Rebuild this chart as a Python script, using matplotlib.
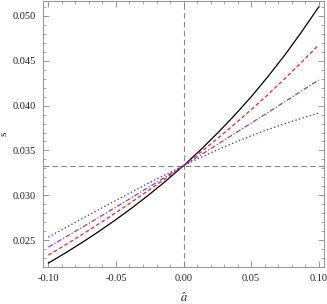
import matplotlib
matplotlib.use("Agg")
import matplotlib.pyplot as plt
from matplotlib.ticker import MultipleLocator, FormatStrFormatter

# values
a_hat = [-0.1000, -0.0875, -0.0750, -0.0625, -0.0500, -0.0375, -0.0250, -0.0125, 0.0000,
         0.0125, 0.0250, 0.0375, 0.0500, 0.0625, 0.0750, 0.0875, 0.1000]
s_black = [0.02244, 0.02356, 0.02474, 0.02598, 0.02729, 0.02867, 0.03013, 0.03167, 0.03330,
           0.03505, 0.03691, 0.03888, 0.04097, 0.04325, 0.04565, 0.04825, 0.05100]
s_red = [0.02333, 0.02446, 0.02563, 0.02683, 0.02807, 0.02934, 0.03064, 0.03195, 0.03330,
         0.03478, 0.03631, 0.03790, 0.03954, 0.04124, 0.04302, 0.04486, 0.04676]
s_purple = [0.02422, 0.02532, 0.02643, 0.02755, 0.02868, 0.02982, 0.03097, 0.03213, 0.03330,
            0.03448, 0.03566, 0.03685, 0.03804, 0.03924, 0.04044, 0.04165, 0.04286]
s_blue = [0.02533, 0.02637, 0.02740, 0.02842, 0.02943, 0.03043, 0.03142, 0.03237, 0.03330,
          0.03420, 0.03506, 0.03587, 0.03663, 0.03734, 0.03799, 0.03859, 0.03917]
s_ref = 0.0333

plt.rcParams["font.family"] = ["Liberation Serif", "DejaVu Serif"]
plt.rcParams["mathtext.fontset"] = "stix"

fig = plt.figure(figsize=(3.27, 3.04), dpi=100)
ax = fig.add_axes([0.1315, 0.1217, 0.8595, 0.875])

ax.axvline(0, color="#888888", lw=0.8, ls=(0, (5, 3)))
ax.axhline(s_ref, color="#888888", lw=0.8, ls=(0, (5, 3)))

ax.plot(a_hat, s_black, color="black", lw=0.9)
ax.plot(a_hat, s_red, color="#ff2020", lw=0.9, ls=(0, (3, 2)))
ax.plot(a_hat, s_purple, color="#9040b0", lw=0.9, ls=(0, (4, 1.5, 1, 1.5)))
ax.plot(a_hat, s_blue, color="#2020ff", lw=0.9, ls=(0, (1, 2)))

ax.set_xlim(-0.104, 0.104)
ax.set_ylim(0.022, 0.05167)

ax.xaxis.set_major_locator(MultipleLocator(0.05))
ax.xaxis.set_minor_locator(MultipleLocator(0.01))
ax.yaxis.set_major_locator(MultipleLocator(0.005))
ax.yaxis.set_minor_locator(MultipleLocator(0.001))
ax.xaxis.set_major_formatter(FormatStrFormatter("%.2f"))
ax.yaxis.set_major_formatter(FormatStrFormatter("%.3f"))

for sp in ax.spines.values():
    sp.set_color("#999999")
    sp.set_linewidth(0.8)
ax.tick_params(which="both", direction="in", top=True, right=True,
               color="#999999", labelsize=7.5, labelcolor="#222222")
ax.tick_params(which="major", length=4, width=0.7, pad=5)
ax.tick_params(which="minor", length=2.2, width=0.6)

ax.set_xlabel(r"$\hat{a}$", fontsize=9, labelpad=6, color="#222222")
ax.set_ylabel("s", fontsize=8, color="#222222")
ax.yaxis.set_label_coords(-0.124, 0.5)

fig.savefig("out.png", dpi=100)
